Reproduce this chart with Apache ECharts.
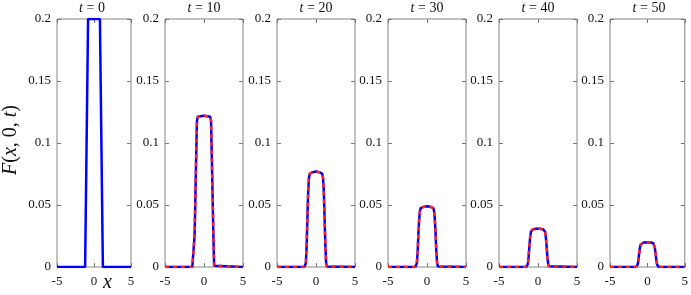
<!DOCTYPE html>
<html><head><meta charset="utf-8">
<script src="https://cdn.jsdelivr.net/npm/echarts@6/dist/echarts.min.js"></script>
<style>html,body{margin:0;padding:0;background:#fff}#c{width:691px;height:295px}</style>
</head><body><div id="c"></div>
<script>
const times = [0, 10, 20, 30, 40, 50];
const xTicks = [-5, 0, 5];
const yTicks = [0, 0.05, 0.1, 0.15, 0.2];
// initial condition t=0
const x0 = [-5, -1.2, -0.8, 0.8, 1.2, 5];
const f0 = [0, 0, 0.2, 0.2, 0, 0];
// common x grid for t>0
const xs = [-5, -1.5, -1.4, -1.3, -1.2, -1.1, -1.0, -0.9, -0.8, -0.7, -0.5, -0.25, 0, 0.25, 0.5, 0.7, 0.8, 0.9, 1.0, 1.1, 1.2, 1.3, 1.4, 1.5, 5];
const f10 = [0, 0, 0, 0.001, 0.026, 0.058, 0.09, 0.118, 0.1212, 0.1214, 0.1216, 0.1218, 0.122, 0.1218, 0.1216, 0.1214, 0.1212, 0.118, 0.09, 0.058, 0.026, 0.001, 0, 0, 0];
const f20 = [0, 0, 0.0005, 0.003, 0.017, 0.04, 0.061, 0.072, 0.0752, 0.0758, 0.0763, 0.0768, 0.077, 0.0768, 0.0763, 0.0758, 0.0752, 0.072, 0.061, 0.04, 0.017, 0.003, 0.0005, 0, 0];
const f30 = [0, 0, 0.0005, 0.003, 0.012, 0.027, 0.039, 0.0455, 0.0475, 0.048, 0.0484, 0.0488, 0.049, 0.0488, 0.0484, 0.048, 0.0475, 0.0455, 0.039, 0.027, 0.012, 0.003, 0.0005, 0, 0];
const f40 = [0, 0, 0.0006, 0.0025, 0.0085, 0.017, 0.0245, 0.0285, 0.0298, 0.0303, 0.0306, 0.0309, 0.031, 0.0309, 0.0306, 0.0303, 0.0298, 0.0285, 0.0245, 0.017, 0.0085, 0.0025, 0.0006, 0, 0];
const f50 = [0, 0.0001, 0.0006, 0.002, 0.0055, 0.011, 0.0155, 0.0182, 0.0192, 0.0196, 0.0198, 0.0199, 0.02, 0.0199, 0.0198, 0.0196, 0.0192, 0.0182, 0.0155, 0.011, 0.0055, 0.002, 0.0006, 0.0001, 0];
const numeric = [f10, f20, f30, f40, f50];
const approx = [f10, f20, f30, f40, f50];

const chart = echarts.init(document.getElementById('c'), null, {renderer: 'canvas'});
const FONT = '"Liberation Serif","Times New Roman",serif';
const lefts = [53, 165, 277, 388, 499, 610];
const W = 78, TOP = 19, H = 248;
const grids = [], xAxes = [], yAxes = [], series = [], titles = [];
const axisCol = '#858585';
lefts.forEach((l, i) => {
  grids.push({left: l, top: TOP, width: W, height: H, show: true, borderColor: axisCol, borderWidth: 1});
  const xb = {type: 'value', gridIndex: i, min: -5, max: 5, interval: 5,
    axisLine: {show: false, onZero: false}, splitLine: {show: false},
    axisTick: {show: true, inside: true, length: 4, lineStyle: {color: '#777'}},
    axisLabel: {show: true, margin: 8, fontFamily: FONT, fontSize: 13, color: '#111', formatter: v => xTicks.includes(v) ? String(v) : ''}};
  xAxes.push(Object.assign({}, xb, {position: 'bottom'}));
  xAxes.push(Object.assign({}, xb, {position: 'top', axisLabel: {show: false}}));
  const yb = {type: 'value', gridIndex: i, min: 0, max: 0.2, interval: 0.05,
    axisLine: {show: false, onZero: false}, splitLine: {show: false},
    axisTick: {show: true, inside: true, length: 4, lineStyle: {color: '#777'}},
    axisLabel: {show: true, margin: 6, fontFamily: FONT, fontSize: 13, color: '#111', formatter: v => { const t = yTicks.find(k => Math.abs(k - v) < 1e-9); return t === undefined ? '' : String(t); }}};
  const yl = Object.assign({}, yb, {position: 'left'});
  if (i === 0) {
    Object.assign(yl, {name: '{i|F}({i|x}, 0, {i|t})', nameLocation: 'middle', nameGap: 36, nameRotate: 90,
      nameTextStyle: {fontFamily: FONT, fontSize: 20, color: '#111', padding: [0, 0, 0, 6],
        rich: {i: {fontFamily: FONT, fontSize: 20, fontStyle: 'italic', color: '#111'}}}});
  }
  yAxes.push(yl);
  yAxes.push(Object.assign({}, yb, {position: 'right', axisLabel: {show: false}}));
  titles.push({text: '{i|t} = ' + times[i], left: l + W / 2, top: 0, padding: 0, textAlign: 'center',
    textStyle: {fontFamily: FONT, fontSize: 14, fontWeight: 'normal', color: '#111', lineHeight: 16,
      rich: {i: {fontFamily: FONT, fontSize: 14, fontStyle: 'italic', color: '#111', lineHeight: 16}}}});
  if (i === 0) {
    series.push({type: 'line', xAxisIndex: 0, yAxisIndex: 0, showSymbol: false, animation: false,
      data: x0.map((x, k) => [x, f0[k]]), lineStyle: {color: '#0000ff', width: 2.5}});
  } else {
    series.push({type: 'line', xAxisIndex: 2 * i, yAxisIndex: 2 * i, showSymbol: false, animation: false,
      data: xs.map((x, k) => [x, numeric[i - 1][k]]), lineStyle: {color: '#0000ff', width: 2.5}});
    series.push({type: 'line', xAxisIndex: 2 * i, yAxisIndex: 2 * i, showSymbol: false, animation: false,
      data: xs.map((x, k) => [x, approx[i - 1][k]]), lineStyle: {color: '#ff2020', width: 2.5, type: [4, 4]}});
  }
});

chart.setOption({
  animation: false,
  title: titles,
  grid: grids, xAxis: xAxes, yAxis: yAxes, series: series,
  graphic: [{type: 'text', left: 103, top: 273,
    style: {text: 'x', fontFamily: FONT, fontSize: 20, fontStyle: 'italic', fill: '#111'}}]
});
</script></body></html>
